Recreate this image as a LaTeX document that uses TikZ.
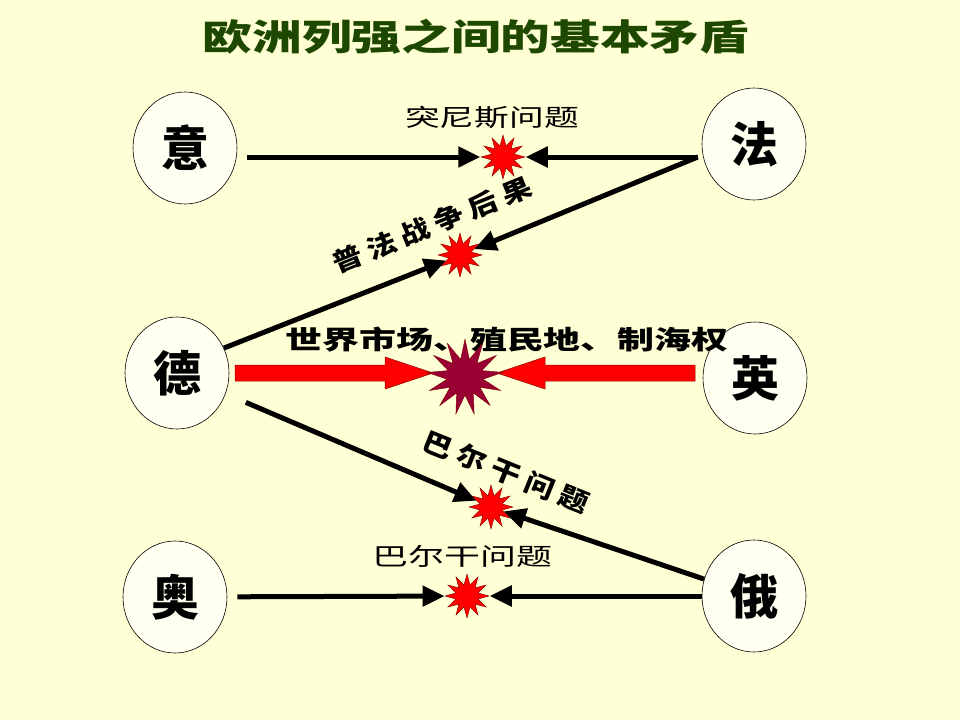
\documentclass[tikz,border=0pt]{standalone}
\usepackage{fontspec}
\usepackage{graphicx}
\newfontfamily\cjk{Noto Sans CJK SC}
\newfontfamily\cjksp[LetterSpace=22]{Noto Sans CJK SC}
\usetikzlibrary{shapes.geometric,arrows.meta}
\definecolor{bg}{RGB}{255,255,213}
\definecolor{ivory}{RGB}{255,255,242}
\definecolor{titlegreen}{RGB}{30,72,0}
\definecolor{darkstar}{RGB}{153,0,51}
\begin{document}
\begin{tikzpicture}[x=1pt,y=-1pt,
 country/.style={ellipse,draw=black,line width=0.6pt,fill=ivory,minimum width=104pt,minimum height=112pt,inner sep=0pt,font=\cjk\bfseries\fontsize{48}{48}\selectfont},
 boom/.style={star,star points=12,star point ratio=1.9,fill=red,draw=red!50!black,line width=0.4pt,minimum size=44pt,inner sep=0pt},
 arr/.style={line width=5pt,-{Triangle[length=22pt,width=20pt]}},
 lbl/.style={font=\cjk\fontsize{24}{24}\selectfont},
 blbl/.style={font=\cjksp\bfseries\fontsize{26}{26}\selectfont},
 fat/.style={fill=red,draw=red!60!black,line width=0.5pt}
 ]
\fill[bg] (0,0) rectangle (960,720);
\useasboundingbox (0,0) rectangle (960,720);

\node[font=\cjk\bfseries\fontsize{36}{36}\selectfont,text=titlegreen] (title) at (476,37) {\scalebox{1.38}[1]{欧洲列强之间的基本矛盾}};

\node[country] (yi) at (185,148) {意};
\node[country] (fa) at (754,144) {法};
\node[country] (de) at (177,373) {德};
\node[country] (ying) at (755,378) {英};
\node[country] (ao) at (175,597) {奥};
\node[country] (e) at (754,596) {俄};

\node[lbl] (t1) at (492,117) {\scalebox{1.45}[1]{突尼斯问题}};
\node[lbl,font=\cjk\bfseries\fontsize{26}{26}\selectfont] (t2) at (507,340) {\scalebox{1.42}[1]{世界市场、殖民地、制海权}};
\node[lbl] (t3) at (462,556) {\scalebox{1.5}[1]{巴尔干问题}};
\node[blbl,rotate=22] (t4) at (432,225) {\scalebox{1.15}[1]{普法战争后果}};
\node[blbl,rotate=-22] (t5) at (506,472) {\scalebox{1.15}[1]{巴尔干问题}};

\node[boom] (s1) at (503,157) {};
\node[boom] (s2) at (460,255) {};
\node[boom] (s3) at (491,507) {};
\node[boom] (s4) at (467,596) {};

\fill[fat] (235,365) -- (385,365) -- (385,357) -- (433,373) -- (385,389) -- (385,381) -- (235,381) -- cycle;
\fill[fat] (695,365) -- (545,365) -- (545,357) -- (497,373) -- (545,389) -- (545,381) -- (695,381) -- cycle;
\node[boom,fill=darkstar,minimum size=76pt,star points=13,star point ratio=2.1] (sb) at (465,377) {};

\coordinate (fw) at ([xshift=-4pt]fa.west |- s1);
\draw[arr] ([xshift=10pt]yi.east |- s1) -- (s1);
\draw[arr] (fw) -- (s1);
\draw[arr] (fw) -- (s2);
\draw[arr] (de.28) -- (s2);
\draw[arr,shorten <=22pt] (de) -- (s3);
\draw[arr] (e) -- (s3);
\draw[arr] (e) -- (s4);
\draw[arr,shorten <=10pt] (ao) -- (s4);
\end{tikzpicture}
\end{document}
